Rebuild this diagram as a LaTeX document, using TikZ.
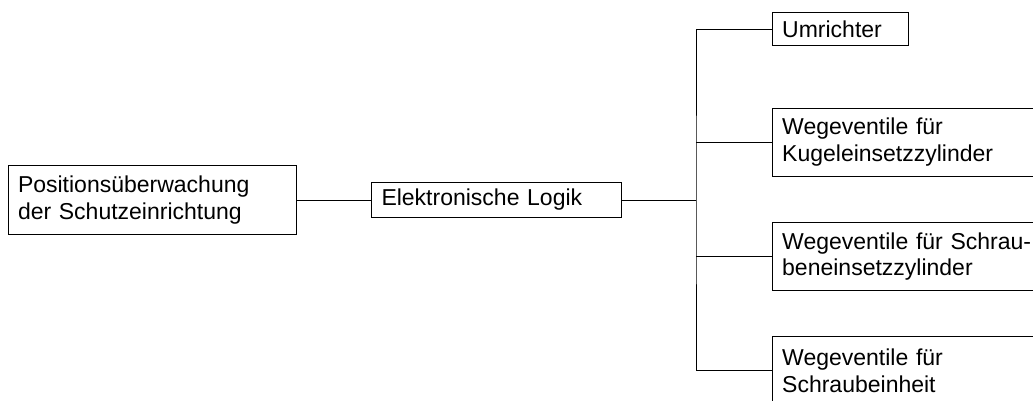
\documentclass[tikz,border=0pt]{standalone}
\usepackage{fontspec}
\setmainfont{Liberation Sans}
\begin{document}
\begin{tikzpicture}[x=1pt,y=-1pt,
  box/.style={draw=black, line width=1pt, rectangle, anchor=west,
    inner xsep=10pt, inner ysep=2pt, align=left,
    font=\fontsize{23}{26.6}\selectfont},
  link/.style={draw=black, line width=1pt}]
  \clip (0,0) rectangle (1033,401);
  \useasboundingbox (0,0) rectangle (1033,401);

  % source and logic unit
  \node[box, text width=268pt, minimum height=68.5pt] (b1) at (7.5,200)
    {Positionsüberwachung\\der Schutzeinrichtung};
  \node[box, text width=230pt, minimum height=34.6pt] (b2) at (371,200)
    {Elektronische Logik};

  % actuators
  \node[box, text width=116.6pt, minimum height=33pt] (b3) at (771.7,29.2)
    {Umrichter};
  \node[box, text width=290pt, minimum height=67.7pt] (b4) at (771.7,142.2)
    {Wegeventile für\\Kugeleinsetzzylinder};
  \node[box, text width=290pt, minimum height=68pt] (b5) at (771.7,256.7)
    {Wegeventile für Schrau-\\beneinsetzzylinder};
  \node[box, text width=290pt, minimum height=68pt] (b6) at (771.7,370.5)
    {Wegeventile für\\Schraubeinheit};

  % connectors
  \coordinate (j) at (696,200);
  \draw[link] (b1.east) -- (b2.west);
  \draw[link] (b2.east) -- (j);
  \draw[link] (b3.west) -| (j) |- (b6.west);
  \draw[link] (b4.west) -- (b4.west -| j);
  \draw[link] (b5.west) -- (b5.west -| j);
\end{tikzpicture}
\end{document}
